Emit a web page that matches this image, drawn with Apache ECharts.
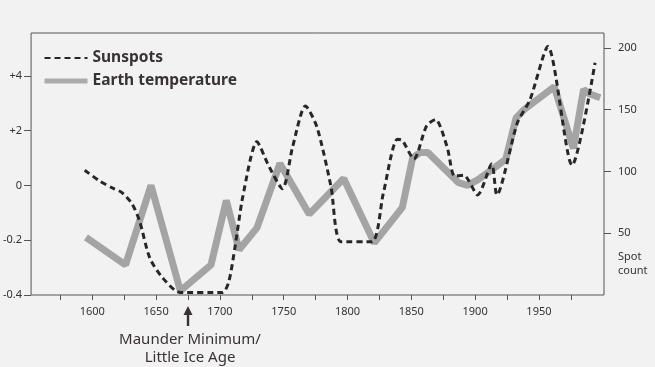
<!DOCTYPE html>
<html>
<head>
<meta charset="utf-8">
<script src="https://cdn.jsdelivr.net/npm/echarts@6/dist/echarts.min.js"></script>
<style>
  html, body { margin: 0; padding: 0; background: #f2f2f2; }
  #chart { width: 655px; height: 367px; }
</style>
</head>
<body>
<div id="chart"></div>
<script>
// sunspot count (right axis), [year, spots]
const sunspots = [
  [1594, 101], [1606, 92], [1615, 87], [1623, 83], [1631, 74], [1637, 60],
  [1645, 30], [1655, 14], [1669, 2], [1702, 2], [1707, 11], [1712, 40],
  [1718, 80], [1729, 124], [1738, 105], [1749, 86], [1757, 120], [1767, 153],
  [1776, 136], [1787, 88], [1795, 43], [1819, 43], [1828, 82], [1839, 126],
  [1843, 125], [1852, 110], [1862, 137], [1869, 142], [1878, 120], [1884, 96],
  [1891, 97], [1902, 81], [1913, 106], [1917, 81], [1933, 139], [1943, 158],
  [1957, 201], [1976, 105], [1994, 188]
];
// earth temperature (left axis), [year, deviation]
const temperature = [
  [1595, -0.19], [1626, -0.29], [1646, 0.0], [1669, -0.385], [1693, -0.29],
  [1705, -0.055], [1715, -0.235], [1729, -0.155], [1747, 0.08], [1770, -0.105],
  [1797, 0.025], [1821, -0.21], [1843, -0.08], [1851, 0.10], [1857, 0.12],
  [1863, 0.12], [1887, 0.01], [1894, 0.0], [1902, 0.02], [1911, 0.05],
  [1924, 0.095], [1932, 0.245], [1938, 0.275], [1962, 0.36], [1977, 0.135],
  [1985, 0.35], [1989, 0.335], [1998, 0.32]
];
const yearTicks = [1575, 1600, 1625, 1650, 1675, 1700, 1725, 1750, 1775, 1800, 1825, 1850, 1875, 1900, 1925, 1950, 1975];
const yearLabels = [1600, 1650, 1700, 1750, 1800, 1850, 1900, 1950];
const tempTicks = [-0.4, -0.2, 0, 0.2, 0.4];
const tempLabels = { '-4': '-0.4', '-2': '-0.2', '0': '0', '2': '+2', '4': '+4' };
const spotTicks = [50, 100, 150, 200];

const font = 'Noto Sans';
const ink = '#3a3333';

const chart = echarts.init(document.getElementById('chart'));
chart.setOption({
  backgroundColor: '#f2f2f2',
  animation: false,
  textStyle: { fontFamily: font },
  grid: {
    left: 29.5, right: 51, top: 33, bottom: 72,
    show: true, borderColor: '#555', borderWidth: 1
  },
  legend: {
    orient: 'vertical',
    left: 37, top: 45,
    itemWidth: 43, itemHeight: 14, itemGap: 7,
    itemStyle: { opacity: 0 },
    textStyle: { fontFamily: font, fontSize: 15.5, fontWeight: 'bold', color: ink },
    data: [
      { name: 'Sunspots' },
      { name: 'Earth temperature', lineStyle: { width: 5, color: '#acacac' } }
    ]
  },
  xAxis: {
    type: 'value',
    min: 1552, max: 2001,
    axisLine: { show: false, onZero: false },
    splitLine: { show: false },
    axisTick: { inside: false, length: 5, lineStyle: { color: '#555' }, customValues: yearTicks },
    axisLabel: {
      margin: 11, fontSize: 11, color: '#333', customValues: yearLabels,
      formatter: v => String(v)
    }
  },
  yAxis: [
    {
      type: 'value',
      min: -0.4, max: 0.556,
      axisLine: { show: false, onZero: false },
      splitLine: { show: false },
      axisTick: { show: true, inside: false, length: 7, lineStyle: { color: '#555' }, customValues: tempTicks },
      axisLabel: {
        margin: 9, fontSize: 11, color: '#333', customValues: tempTicks,
        formatter: v => tempLabels[String(Math.round(v * 10))]
      }
    },
    {
      type: 'value',
      position: 'right',
      min: 0, max: 212,
      axisLine: { show: false, onZero: false },
      splitLine: { show: false },
      axisTick: { show: true, inside: false, length: 7, lineStyle: { color: '#555' }, customValues: spotTicks },
      axisLabel: { margin: 14, fontSize: 11, color: '#333', customValues: spotTicks }
    }
  ],
  series: [
    {
      name: 'Earth temperature',
      type: 'line',
      yAxisIndex: 0,
      data: temperature,
      symbol: 'none',
      color: '#a4a4a4',
      lineStyle: { width: 7, color: '#a4a4a4' },
      z: 2
    },
    {
      name: 'Sunspots',
      type: 'line',
      yAxisIndex: 1,
      data: sunspots,
      symbol: 'none',
      smooth: 0.25,
      color: '#2a2626',
      lineStyle: { width: 3, color: '#2a2626', type: [6, 4] },
      z: 3
    }
  ]
});

// Maunder Minimum annotation
const ax = chart.convertToPixel({ xAxisIndex: 0 }, 1675);
chart.setOption({
  graphic: [
    { type: 'rect', shape: { x: ax - 1.2, y: 313, width: 2.4, height: 13 }, style: { fill: '#3d3030' } },
    { type: 'polygon', shape: { points: [[ax, 306], [ax - 4.5, 315], [ax + 4.5, 315]] }, style: { fill: '#3d3030' } },
    {
      type: 'text', x: ax + 2, y: 331,
      style: {
        text: 'Maunder Minimum/\nLittle Ice Age', align: 'center', verticalAlign: 'top',
        fontFamily: font, fontSize: 15, lineHeight: 18, fill: ink
      }
    },
    {
      type: 'text', x: 618, y: 250,
      style: { text: 'Spot\ncount', fontFamily: font, fontSize: 11, lineHeight: 14, fill: '#333' }
    }
  ]
});
</script>
</body>
</html>
